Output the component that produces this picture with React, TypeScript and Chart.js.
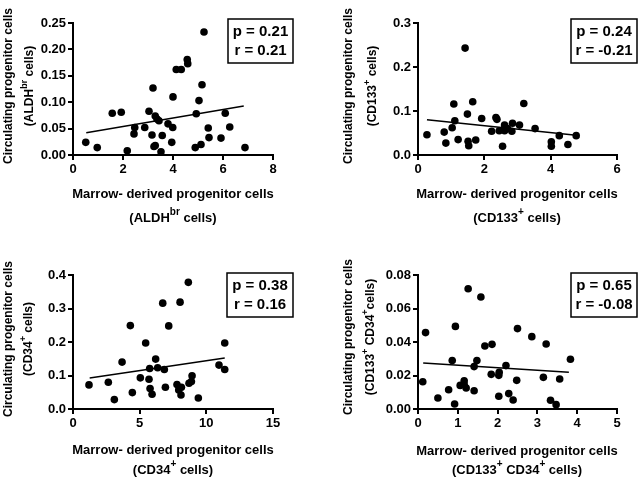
import React, { useEffect, useRef } from "react";
import { Chart, registerables } from "chart.js";

Chart.register(...registerables);

const FONT = "'Liberation Sans', Arial, Helvetica, sans-serif";

// ---- Data ----
const aldhX = [0.51, 0.97, 1.57, 1.93, 2.17, 2.47, 2.44, 2.87, 3.04, 3.2, 3.16, 3.24, 3.29, 3.29, 3.36, 3.44, 3.52, 3.57, 3.8, 3.95, 3.99, 4.0, 4.13, 4.33, 4.57, 4.59, 4.89, 4.93, 5.04, 5.12, 5.16, 5.24, 5.41, 5.44, 5.92, 6.09, 6.27, 6.88];
const aldhY = [0.024, 0.014, 0.079, 0.081, 0.008, 0.052, 0.04, 0.052, 0.083, 0.127, 0.038, 0.016, 0.018, 0.074, 0.068, 0.065, 0.006, 0.037, 0.059, 0.024, 0.052, 0.11, 0.162, 0.162, 0.181, 0.173, 0.014, 0.078, 0.103, 0.02, 0.133, 0.233, 0.051, 0.033, 0.032, 0.079, 0.053, 0.014];
const aldhFitX = [0.53, 6.83];
const aldhFitY = [0.042, 0.0926];

const cd133X = [0.27, 0.79, 0.84, 1.03, 1.08, 1.11, 1.21, 1.42, 1.49, 1.51, 1.53, 1.65, 1.74, 1.92, 2.22, 2.35, 2.38, 2.45, 2.55, 2.61, 2.61, 2.7, 2.83, 2.85, 3.06, 3.19, 3.53, 4.02, 4.02, 4.26, 4.52, 4.77];
const cd133Y = [0.046, 0.052, 0.027, 0.062, 0.116, 0.078, 0.035, 0.243, 0.093, 0.031, 0.021, 0.121, 0.034, 0.083, 0.054, 0.085, 0.081, 0.055, 0.02, 0.068, 0.055, 0.06, 0.054, 0.072, 0.068, 0.117, 0.06, 0.03, 0.02, 0.044, 0.024, 0.044];
const cd133FitX = [0.27, 4.77];
const cd133FitY = [0.08, 0.045];

const cd34X = [1.2, 2.65, 3.1, 3.68, 4.3, 4.45, 5.05, 5.45, 5.7, 5.75, 5.78, 5.93, 6.2, 6.35, 6.73, 6.85, 6.93, 7.18, 7.8, 7.93, 8.03, 8.1, 8.13, 8.65, 8.7, 8.88, 8.93, 9.4, 10.95, 11.38, 11.38];
const cd34Y = [0.072, 0.08, 0.028, 0.14, 0.249, 0.049, 0.093, 0.197, 0.089, 0.121, 0.061, 0.044, 0.149, 0.123, 0.316, 0.118, 0.065, 0.248, 0.073, 0.057, 0.319, 0.042, 0.065, 0.378, 0.077, 0.082, 0.099, 0.033, 0.131, 0.197, 0.118];
const cd34FitX = [1.25, 11.38];
const cd34FitY = [0.0925, 0.152];

const dualX = [0.12, 0.19, 0.5, 0.77, 0.86, 0.92, 0.94, 1.06, 1.16, 1.16, 1.21, 1.26, 1.41, 1.41, 1.48, 1.58, 1.68, 1.84, 2.03, 2.04, 2.03, 1.86, 2.21, 2.28, 2.39, 2.48, 2.5, 2.86, 3.15, 3.22, 3.33, 3.47, 3.56, 3.83];
const dualY = [0.0163, 0.0456, 0.0066, 0.0115, 0.0289, 0.003, 0.0493, 0.0141, 0.0169, 0.0147, 0.0125, 0.0718, 0.0109, 0.0253, 0.0289, 0.0669, 0.0376, 0.0207, 0.0201, 0.0219, 0.0076, 0.0386, 0.0259, 0.0092, 0.0054, 0.0171, 0.048, 0.0432, 0.0189, 0.0388, 0.0052, 0.0026, 0.0179, 0.0297];
const dualFitX = [0.13, 3.79];
const dualFitY = [0.0275, 0.0219];

// ---- Text ----
type Seg = { t: string; sup?: boolean };
const yTitle1 = "Circulating progenitor cells";
const xTitle1 = "Marrow- derived progenitor cells";
const aldhLabel: Seg[] = [{ t: "(ALDH" }, { t: "br", sup: true }, { t: " cells)" }];
const cd133Label: Seg[] = [{ t: "(CD133" }, { t: "+", sup: true }, { t: " cells)" }];
const cd34Label: Seg[] = [{ t: "(CD34" }, { t: "+", sup: true }, { t: " cells)" }];
const dualLabelY: Seg[] = [{ t: "(CD133" }, { t: "+", sup: true }, { t: " CD34" }, { t: "+", sup: true }, { t: "cells)" }];
const dualLabelX: Seg[] = [{ t: "(CD133" }, { t: "+", sup: true }, { t: " CD34" }, { t: "+", sup: true }, { t: " cells)" }];

const statsP = ["p = 0.21", "p = 0.24", "p = 0.38", "p = 0.65"];
const statsR = ["r = 0.21", "r = -0.21", "r = 0.16", "r = -0.08"];

interface PanelCfg {
  left: number; top: number; w: number; h: number;
  area: [number, number, number, number]; // L T R B
  xs: number[]; ys: number[]; fx: number[]; fy: number[];
  xMax: number; xStep: number; yMax: number; yStep: number; yDec: number;
  yLab: Seg[]; xLab: Seg[];
  yT: [number, number, number]; // x1, x2, cy
  xT: [number, number, number]; // cx, y1, y2
  box: [number, number, number, number];
  p: string; r: string;
}

const panels: PanelCfg[] = [
  {
    left: 0, top: 0, w: 320, h: 240, area: [73, 23, 273, 155],
    xs: aldhX, ys: aldhY, fx: aldhFitX, fy: aldhFitY,
    xMax: 8, xStep: 2, yMax: 0.25, yStep: 0.05, yDec: 2,
    yLab: aldhLabel, xLab: aldhLabel,
    yT: [9, 30, 86], xT: [173, 194, 218], box: [228, 19, 65, 44],
    p: statsP[0], r: statsR[0],
  },
  {
    left: 320, top: 0, w: 320, h: 240, area: [98, 23, 297, 155],
    xs: cd133X, ys: cd133Y, fx: cd133FitX, fy: cd133FitY,
    xMax: 6, xStep: 2, yMax: 0.3, yStep: 0.1, yDec: 1,
    yLab: cd133Label, xLab: cd133Label,
    yT: [29, 53, 86], xT: [197, 194, 218], box: [251, 19, 66, 44],
    p: statsP[1], r: statsR[1],
  },
  {
    left: 0, top: 240, w: 320, h: 239, area: [73, 35, 273, 169],
    xs: cd34X, ys: cd34Y, fx: cd34FitX, fy: cd34FitY,
    xMax: 15, xStep: 5, yMax: 0.4, yStep: 0.1, yDec: 1,
    yLab: cd34Label, xLab: cd34Label,
    yT: [9, 29, 99], xT: [173, 210, 230], box: [227, 33, 66, 44],
    p: statsP[2], r: statsR[2],
  },
  {
    left: 320, top: 240, w: 320, h: 239, area: [98, 35, 297, 169],
    xs: dualX, ys: dualY, fx: dualFitX, fy: dualFitY,
    xMax: 5, xStep: 1, yMax: 0.08, yStep: 0.02, yDec: 2,
    yLab: dualLabelY, xLab: dualLabelX,
    yT: [29, 51, 97], xT: [197, 211, 230], box: [251, 33, 66, 44],
    p: statsP[3], r: statsR[3],
  },
];

function drawRich(ctx: CanvasRenderingContext2D, segs: Seg[], cx: number, cy: number, size: number, rotate: boolean) {
  ctx.save();
  ctx.translate(cx, cy);
  if (rotate) ctx.rotate(-Math.PI / 2);
  const supSize = Math.round(size * 0.75);
  const widths = segs.map((s) => {
    ctx.font = `bold ${s.sup ? supSize : size}px ${FONT}`;
    return ctx.measureText(s.t).width;
  });
  const total = widths.reduce((a, b) => a + b, 0);
  let x = -total / 2;
  ctx.fillStyle = "#000";
  ctx.textAlign = "left";
  ctx.textBaseline = "middle";
  segs.forEach((s, i) => {
    ctx.font = `bold ${s.sup ? supSize : size}px ${FONT}`;
    ctx.fillText(s.t, x, s.sup ? -size * 0.45 : 0);
    x += widths[i];
  });
  ctx.restore();
}

function Panel({ cfg }: { cfg: PanelCfg }) {
  const ref = useRef<HTMLCanvasElement | null>(null);
  useEffect(() => {
    if (!ref.current) return;
    const [L, T, R, B] = cfg.area;
    const titles = {
      id: "titles",
      afterDraw(chart: any) {
        const ctx = chart.ctx as CanvasRenderingContext2D;
        drawRich(ctx, [{ t: yTitle1 }], cfg.yT[0], cfg.yT[2], 12, true);
        drawRich(ctx, cfg.yLab, cfg.yT[1], cfg.yT[2], 12, true);
        drawRich(ctx, [{ t: xTitle1 }], cfg.xT[0], cfg.xT[1], 13, false);
        drawRich(ctx, cfg.xLab, cfg.xT[0], cfg.xT[2], 13, false);
        const [bx, by, bw, bh] = cfg.box;
        ctx.save();
        ctx.fillStyle = "#fff";
        ctx.fillRect(bx, by, bw, bh);
        ctx.strokeStyle = "#000";
        ctx.lineWidth = 1.5;
        ctx.strokeRect(bx, by, bw, bh);
        ctx.restore();
        drawRich(ctx, [{ t: cfg.p }], bx + bw / 2, by + 13, 15, false);
        drawRich(ctx, [{ t: cfg.r }], bx + bw / 2, by + 32, 15, false);
      },
    };
    const chart = new Chart(ref.current, {
      type: "scatter",
      data: {
        datasets: [
          {
            data: cfg.fx.map((x, i) => ({ x, y: cfg.fy[i] })),
            showLine: true,
            borderColor: "#000",
            borderWidth: 1.5,
            pointRadius: 0,
            backgroundColor: "#000",
          },
          {
            data: cfg.xs.map((x, i) => ({ x, y: cfg.ys[i] })),
            pointRadius: 3.8,
            pointBorderWidth: 0,
            backgroundColor: "#000",
            borderColor: "#000",
          },
        ],
      },
      options: {
        animation: false,
        responsive: false,
        events: [],
        layout: { padding: { left: 0, top: T, right: cfg.w - R, bottom: 0 } },
        plugins: { legend: { display: false }, tooltip: { enabled: false } },
        scales: {
          x: {
            type: "linear",
            min: 0,
            max: cfg.xMax,
            afterFit: (s: any) => { s.height = cfg.h - B; },
            ticks: {
              stepSize: cfg.xStep,
              color: "#000",
              padding: 2,
              maxRotation: 0,
              font: { family: FONT, size: 13, weight: "bold" },
              callback: (v: any) => String(v),
            },
            grid: { display: true, drawOnChartArea: false, drawTicks: true, tickLength: 5, color: "#000", lineWidth: 2 },
            border: { display: true, color: "#000", width: 2 },
          },
          y: {
            type: "linear",
            min: 0,
            max: cfg.yMax,
            afterFit: (s: any) => { s.width = L; },
            ticks: {
              stepSize: cfg.yStep,
              color: "#000",
              padding: 2,
              font: { family: FONT, size: 13, weight: "bold" },
              callback: (v: any) => Number(v).toFixed(cfg.yDec),
            },
            grid: { display: true, drawOnChartArea: false, drawTicks: true, tickLength: 5, color: "#000", lineWidth: 2 },
            border: { display: true, color: "#000", width: 2 },
          },
        },
      },
      plugins: [titles],
    } as any);
    return () => chart.destroy();
  }, [cfg]);
  return (
    <canvas
      ref={ref}
      width={cfg.w}
      height={cfg.h}
      style={{ position: "absolute", left: cfg.left, top: cfg.top, width: cfg.w, height: cfg.h }}
    />
  );
}

export default function App() {
  return (
    <div style={{ position: "absolute", left: 0, top: 0, width: 640, height: 479, background: "#fff", overflow: "hidden" }}>
      {panels.map((p, i) => (
        <Panel key={i} cfg={p} />
      ))}
    </div>
  );
}
